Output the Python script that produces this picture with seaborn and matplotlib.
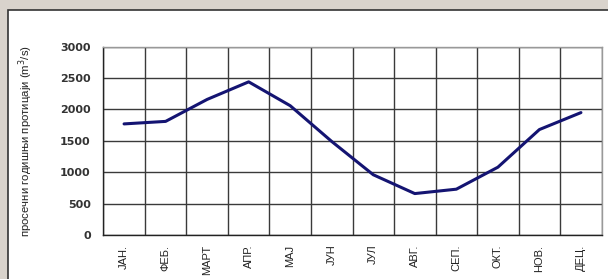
import numpy as np
import pandas as pd
import matplotlib
matplotlib.use("Agg")
import matplotlib.pyplot as plt
import seaborn as sns
from matplotlib.patches import Rectangle

# podaci
meseci = ["ЈАН.", "ФЕБ.", "МАРТ", "АПР.", "МАЈ", "ЈУН", "ЈУЛ", "АВГ.", "СЕП.", "ОКТ.", "НОВ.", "ДЕЦ."]
protok = [1770, 1810, 2160, 2440, 2060, 1490, 960, 660, 730, 1080, 1680, 1950]
y_ticks = [0, 500, 1000, 1500, 2000, 2500, 3000]

sns.set_style("white")
plt.rcParams['font.family'] = ['Liberation Sans', 'DejaVu Sans']

df = pd.DataFrame({"mesec": np.arange(len(meseci)), "protok": protok})

fig = plt.figure(figsize=(6.08, 2.79), dpi=100, facecolor='#d9d3cc')
# beli okvir grafika
okvir = Rectangle((8/608, -0.1), 1.0, 1 - 10/279 + 0.1, transform=fig.transFigure,
                  facecolor='white', edgecolor='#333333', linewidth=1.2, zorder=-5)
fig.patches.append(okvir)

ax = fig.add_axes([103.3/608, 1 - 235/279, (601.7 - 103.3)/608, (235 - 46.7)/279])
ax.set_zorder(2)
ax.set_facecolor('white')

sns.lineplot(data=df, x="mesec", y="protok", ax=ax, color='#141472', linewidth=2.2, zorder=3)

ax.set_xlim(-0.5, len(meseci) - 0.5)
ax.set_ylim(0, 3000)
ax.set_yticks(y_ticks)
ax.set_yticklabels([str(v) for v in y_ticks], fontsize=8, fontweight='bold', color='#333333',
                   family=['DejaVu Sans'])
ax.set_xticks(np.arange(len(meseci)))
ax.set_xticklabels(meseci, rotation=90, fontsize=8, color='#222222')
ax.set_xticks(np.arange(len(meseci) + 1) - 0.5, minor=True)
ax.tick_params(axis='x', which='major', length=0, pad=7)
ax.tick_params(axis='x', which='minor', length=4, width=0.9, color='#222222', direction='out')
ax.tick_params(axis='y', length=4, width=0.9, color='#222222', direction='out', pad=5)

ax.grid(False)
ax.grid(True, axis='y', which='major', color='#3a3a3a', linewidth=1.0)
ax.grid(True, axis='x', which='minor', color='#3a3a3a', linewidth=1.0)
ax.set_axisbelow(True)

for s in ['top', 'right']:
    ax.spines[s].set_color('#999999')
    ax.spines[s].set_linewidth(1.0)
for s in ['left', 'bottom']:
    ax.spines[s].set_color('#222222')
    ax.spines[s].set_linewidth(1.0)

ax.set_xlabel("")
ax.set_ylabel("просечни годишњи протицаји (m$^3$/s)", fontsize=8.2, color='#222222')
ax.yaxis.set_label_coords(-0.137, 0.5)

plt.savefig("out.png", dpi=100, facecolor=fig.get_facecolor())
